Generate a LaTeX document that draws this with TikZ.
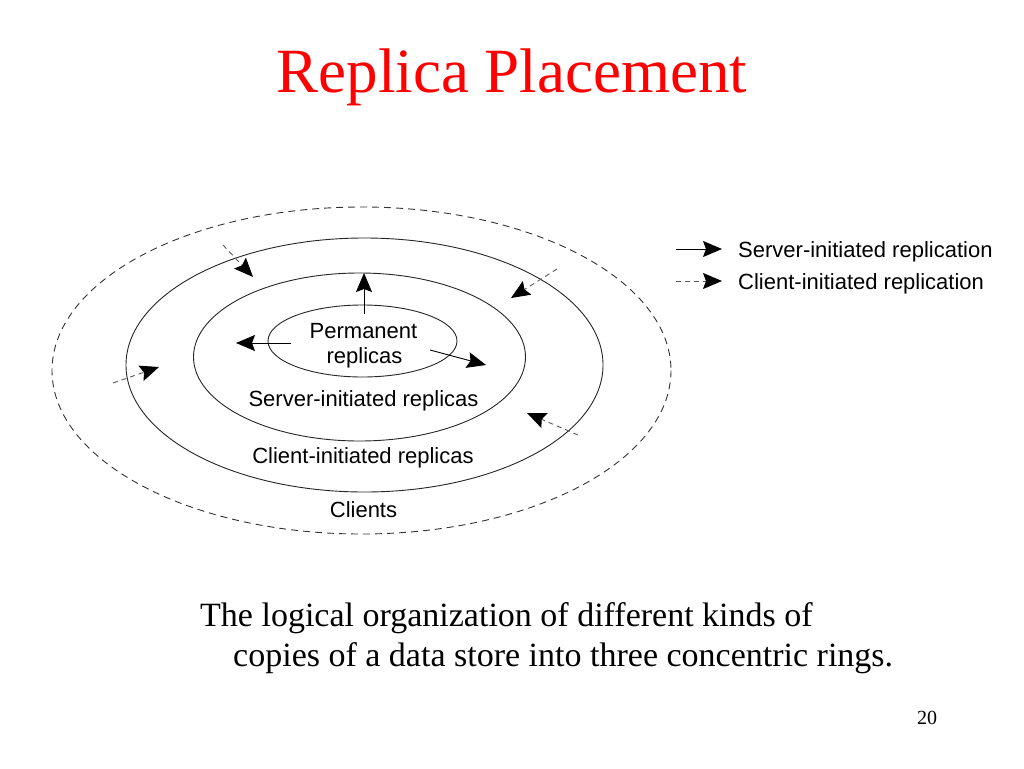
\documentclass[tikz,border=0pt]{standalone}
\usepackage{fontspec}
\setmainfont{Liberation Serif}
\newfontfamily\lab{Liberation Sans}
\usetikzlibrary{arrows.meta}
\begin{document}
\begin{tikzpicture}[x=1pt,y=-1pt,
  ring/.style={draw=black!85, line width=0.9pt},
  cring/.style={draw=black!80, line width=0.9pt, dash pattern=on 7pt off 5pt},
  sarrow/.style={draw=black, line width=0.9pt, -{Stealth[length=19pt,width=16pt,inset=3pt,black]}},
  carrow/.style={draw=black!65, line width=0.9pt, dash pattern=on 5pt off 4pt, -{Stealth[length=19pt,width=16pt,inset=3pt,black]}},
  lbl/.style={font=\lab\fontsize{22}{26}\selectfont, inner sep=0pt, anchor=base},
  leg/.style={font=\lab\fontsize{22}{26}\selectfont, inner sep=0pt, anchor=base west},
  captext/.style={font=\fontsize{34}{40}\selectfont, inner sep=0pt, anchor=base west},
]
\useasboundingbox (0,0) rectangle (1024,768);
\fill[white] (0,0) rectangle (1024,768);

% title
\node[font=\fontsize{63}{70}\selectfont, text=red, inner sep=0pt, anchor=base] (title) at (512,92) {Replica Placement};

% rings
\coordinate (cclients) at (361.5,370.5);
\coordinate (cclient) at (364.5,365);
\coordinate (cserver) at (359.5,357);
\coordinate (cperm) at (362.5,341);
\draw[cring] (cclients) ellipse [x radius=309.5, y radius=163.5];
\draw[ring] (cclient) ellipse [x radius=238.5, y radius=127];
\draw[ring] (cserver) ellipse [x radius=166, y radius=84];
\draw[ring] (cperm) ellipse [x radius=94.5, y radius=36];

% labels
\node[lbl] (lperm) at (363.5,338) {Permanent};
\node[lbl] (lrepl) at (364.5,363) {replicas};
\node[lbl] (lserver) at (363.5,406) {Server-initiated replicas};
\node[lbl] (lclient) at (363,463) {Client-initiated replicas};
\node[lbl] (lclients) at (363.5,517) {Clients};

% server-initiated arrows
\coordinate (s1a) at (364,314); \coordinate (s1b) at (364,273);
\coordinate (s2a) at (291,343); \coordinate (s2b) at (236,343);
\coordinate (s3a) at (430,350); \coordinate (s3b) at (486,365);
\draw[sarrow] (s1a) -- (s1b);
\draw[sarrow] (s2a) -- (s2b);
\draw[sarrow] (s3a) -- (s3b);

% client-initiated arrows
\coordinate (c1a) at (223,245); \coordinate (c1b) at (253,277);
\coordinate (c2a) at (557,269); \coordinate (c2b) at (511,298);
\coordinate (c3a) at (113,383); \coordinate (c3b) at (159,367);
\coordinate (c4a) at (578,435); \coordinate (c4b) at (527,413);
\draw[carrow] (c1a) -- (c1b);
\draw[carrow] (c2a) -- (c2b);
\draw[carrow] (c3a) -- (c3b);
\draw[carrow] (c4a) -- (c4b);

% legend
\coordinate (g1a) at (676,249); \coordinate (g1b) at (722,249);
\coordinate (g2a) at (676,281); \coordinate (g2b) at (722,281);
\draw[sarrow] (g1a) -- (g1b);
\draw[carrow] (g2a) -- (g2b);
\node[leg] (leg1) at (738,257) {Server-initiated replication};
\node[leg] (leg2) at (738,289) {Client-initiated replication};

% caption
\node[captext] (cap1) at (200,626) {The logical organization of different kinds of};
\node[captext] (cap2) at (233,666) {copies of a data store into three concentric rings.};

% page number
\node[font=\fontsize{20}{24}\selectfont, inner sep=0pt, anchor=base] (pnum) at (927,724) {20};
\end{tikzpicture}
\end{document}
